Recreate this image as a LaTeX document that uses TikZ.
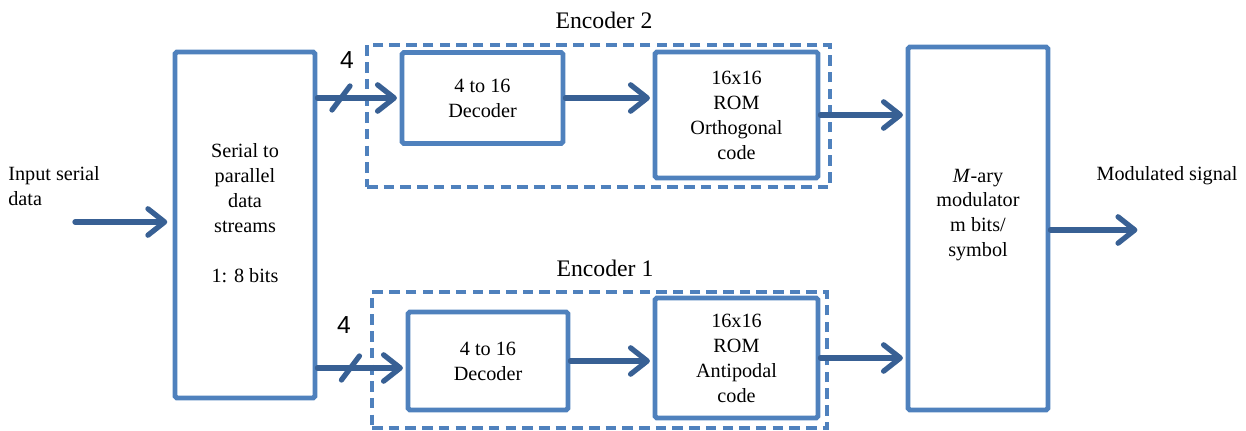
\documentclass[tikz,border=0pt]{standalone}
\usepackage{fontspec}
\setmainfont{Liberation Serif}
\newfontfamily\labelsans{Liberation Sans}
\usetikzlibrary{arrows.meta,calc}
\definecolor{boxblue}{RGB}{79,129,189}
\definecolor{arrowblue}{RGB}{56,96,148}
\begin{document}
\begin{tikzpicture}[x=0.02cm,y=-0.02cm,
  blockbox/.style={draw=boxblue, line width=2.8pt, rounded corners=1pt, fill=white, align=center, inner sep=0pt, font=\rmfamily\fontsize{11.5}{14.2}\selectfont},
  encbox/.style={draw=boxblue, line width=1.8pt, dash pattern=on 6pt off 3.5pt},
  flow/.style={draw=arrowblue, line width=3pt, line cap=round, shorten >=1.5pt, -{Straight Barb[length=9.5pt,width=15pt,line cap=round,line join=round]}},
  slashmark/.style={draw=arrowblue, line width=3pt, line cap=round},
  txt/.style={font=\rmfamily\fontsize{11.5}{14.2}\selectfont, align=center, inner sep=0pt},
  enclabel/.style={font=\rmfamily\fontsize{13.5}{16}\selectfont, inner sep=0pt},
  numlabel/.style={font=\labelsans\fontsize{14}{16}\selectfont, inner sep=0pt}]
\useasboundingbox (0,0) rectangle (1246,431);

% encoder dashed frames
\node[encbox, minimum width=9.26cm, minimum height=2.84cm] (enc2) at (598.5,116) {};
\node[encbox, minimum width=9.10cm, minimum height=2.72cm] (enc1) at (599.5,360) {};
\node[enclabel] (enc2lbl) at (604,20) {Encoder 2};
\node[enclabel] (enc1lbl) at (605,268) {Encoder 1};

% blocks
\node[blockbox, minimum width=2.8cm, minimum height=6.92cm] (s2p) at (245,225) {};
\node[txt] (s2ptxt) at (245,213) {Serial to\\parallel\\data\\streams\\[14.2pt]1: 8 bits};
\node[blockbox, minimum width=3.22cm, minimum height=1.82cm] (dec2) at (482.5,98) {4 to 16\\Decoder};
\node[blockbox, minimum width=3.26cm, minimum height=2.52cm] (rom2) at (736.5,115) {16x16\\ROM\\Orthogonal\\code};
\node[blockbox, minimum width=3.2cm, minimum height=1.96cm] (dec1) at (488,361) {4 to 16\\Decoder};
\node[blockbox, minimum width=3.26cm, minimum height=2.4cm] (rom1) at (736.5,358) {16x16\\ROM\\Antipodal\\code};
\node[blockbox, minimum width=2.8cm, minimum height=7.26cm] (mod) at (978,228.5) {};
\node[txt] (modtxt) at (978,215) {\textit{M}-ary\\modulator\\m bits/\\symbol};

% outside texts
\node[txt, align=left, anchor=west] (intxt) at (8,186) {Input serial\\data};
\node[txt] (outtxt) at (1167,176) {Modulated signal};
\node[numlabel] (n2) at (347,60) {4};
\node[numlabel] (n1) at (344,325) {4};

% connectors
\coordinate (in) at (75,222);
\draw[flow, shorten >=3pt] (in) -- (s2p.west |- in);
\coordinate (t2) at (s2p.east |- dec2.west);
\draw[flow] (t2) -- (dec2.west);
\coordinate (b1) at ($(dec1.west)+(0,7)$);
\draw[flow] (s2p.east |- b1) -- (b1);
\draw[flow] (dec2.east) -- (rom2.west |- dec2.east);
\draw[flow] (rom2.east) -- (mod.west |- rom2.east);
\draw[flow] (dec1.east) -- (rom1.west |- dec1.east);
\draw[flow] (rom1.east) -- (mod.west |- rom1.east);
\coordinate (out) at (1140,230);
\draw[flow] (mod.east |- out) -- (out);

% bus-width slashes
\coordinate (s2) at (341,98);
\draw[slashmark] ($(s2)+(-9,12)$) -- ($(s2)+(9,-12)$);
\coordinate (s1) at ($(s2p.east |- b1)+(33,0)$);
\draw[slashmark] ($(s1)+(-9,12)$) -- ($(s1)+(9,-12)$);
\end{tikzpicture}
\end{document}
